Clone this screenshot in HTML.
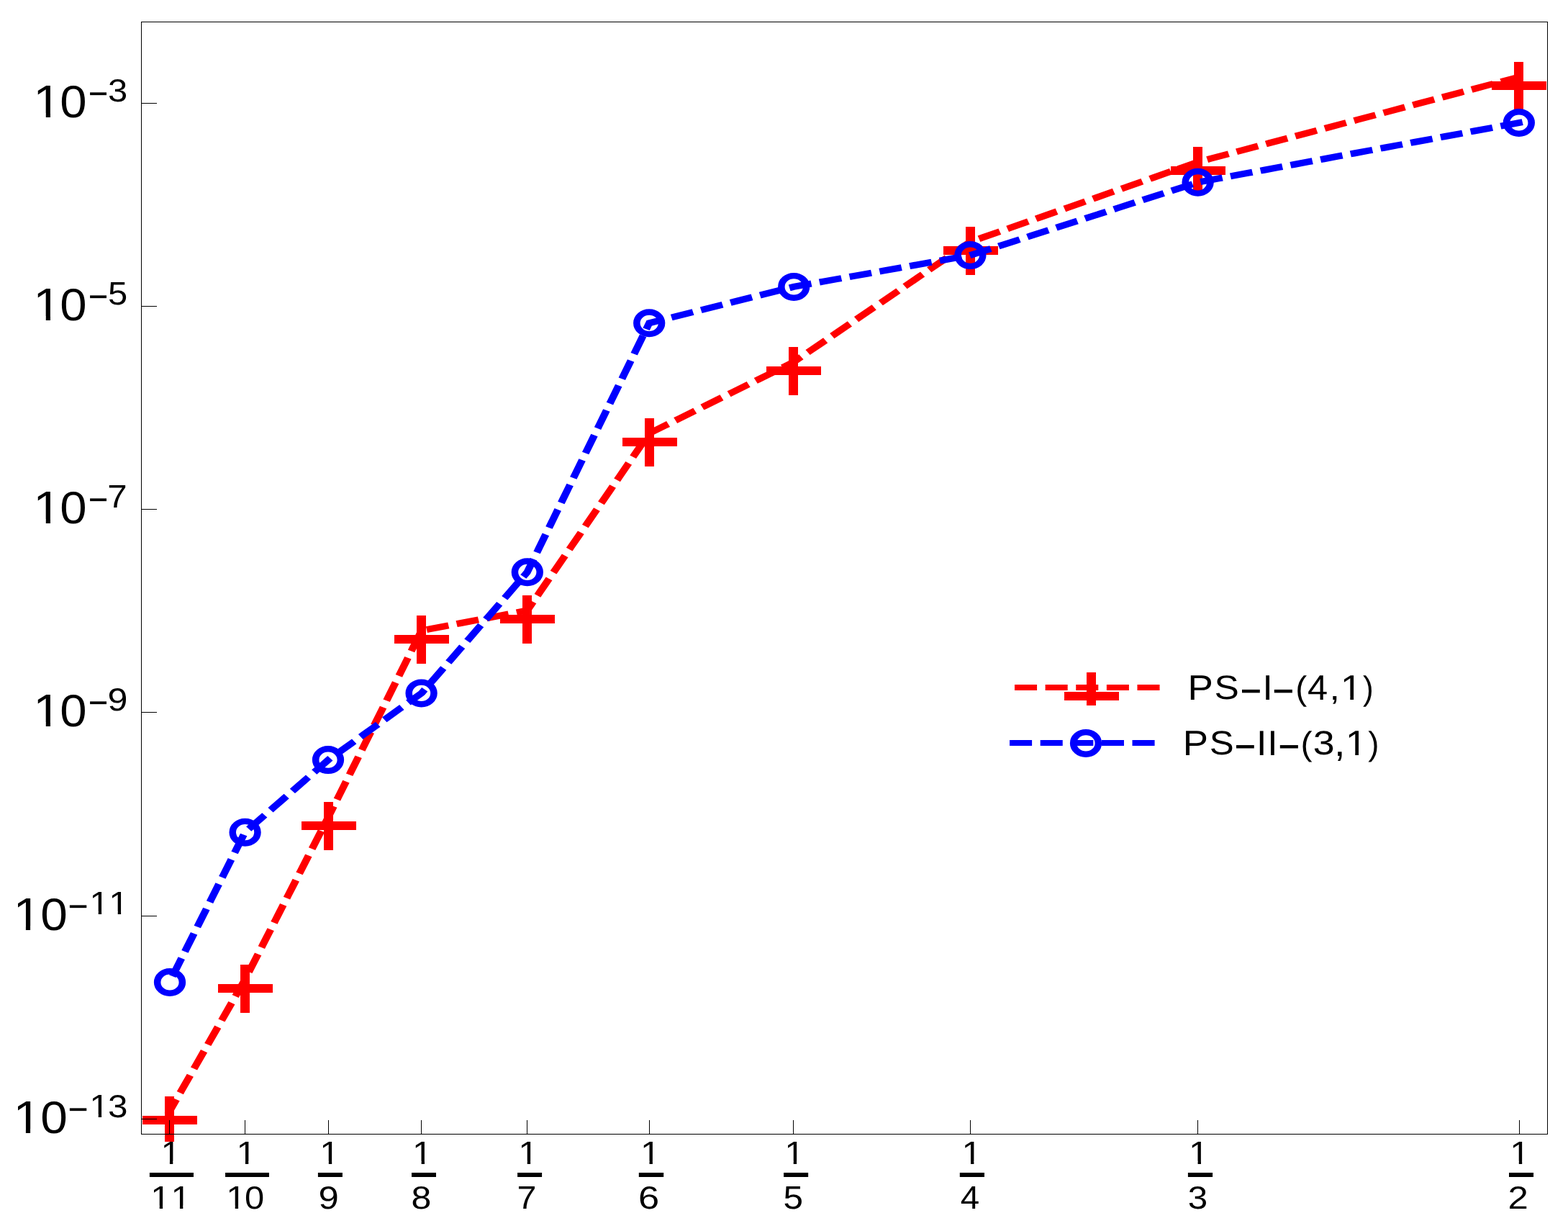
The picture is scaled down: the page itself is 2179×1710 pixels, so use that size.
<!DOCTYPE html>
<html lang="en"><head><meta charset="utf-8">
<style>html,body{margin:0;padding:0;background:#fff}body{width:2179px;height:1710px}svg{display:block}text{font-family:"Liberation Sans",sans-serif;fill:#000;text-rendering:geometricPrecision}</style></head><body>
<svg width="2179" height="1710" viewBox="0 0 2179 1710">
<rect width="2179" height="1710" fill="#fff"/>
<g transform="scale(1.135,1)">
<polyline points="1859.67,107 1466.71,225 1187.9,336 971.63,503 794.93,602 645.54,848 516.12,876 401.97,1135 299.86,1361 207.49,1544" fill="none" stroke="#ff0000" stroke-width="9" stroke-dasharray="18.36 19.19" stroke-linecap="square" stroke-linejoin="miter"/>
</g>
<g fill="#ff0000" shape-rendering="crispEdges">
<rect x="198" y="1550" width="76" height="12"/>
<rect x="229" y="1523" width="13" height="63"/>
<rect x="303" y="1367" width="76" height="12"/>
<rect x="334" y="1340" width="13" height="67"/>
<rect x="419" y="1141" width="76" height="12"/>
<rect x="450" y="1114" width="13" height="67"/>
<rect x="548" y="882" width="76" height="12"/>
<rect x="579" y="855" width="13" height="67"/>
<rect x="695" y="854" width="76" height="12"/>
<rect x="726" y="827" width="13" height="67"/>
<rect x="865" y="608" width="76" height="12"/>
<rect x="896" y="581" width="13" height="67"/>
<rect x="1065" y="509" width="76" height="12"/>
<rect x="1096" y="482" width="13" height="67"/>
<rect x="1311" y="342" width="76" height="12"/>
<rect x="1342" y="315" width="13" height="67"/>
<rect x="1627" y="231" width="76" height="12"/>
<rect x="1658" y="204" width="13" height="67"/>
<rect x="2073" y="113" width="76" height="12"/>
<rect x="2104" y="86" width="13" height="67"/>
</g>
<g transform="scale(1.135,1)">
<polyline points="1859.67,170.5 1466.71,253.3 1187.9,354.6 971.63,398.4 794.93,448.8 645.54,794.8 516.12,962.9 401.97,1055.6 299.86,1156.2 207.49,1364.5" fill="none" stroke="#0000ff" stroke-width="9" stroke-dasharray="18.36 19.19" stroke-linecap="square" stroke-linejoin="miter"/>
<g fill="none" stroke="#0000ff" stroke-width="8.4">
<circle cx="207.93" cy="1364.5" r="15.3"/>
<circle cx="300.09" cy="1156.2" r="15.3"/>
<circle cx="401.76" cy="1055.6" r="15.3"/>
<circle cx="515.95" cy="962.9" r="15.3"/>
<circle cx="645.64" cy="794.8" r="15.3"/>
<circle cx="794.89" cy="448.8" r="15.3"/>
<circle cx="971.98" cy="398.4" r="15.3"/>
<circle cx="1188.02" cy="354.6" r="15.3"/>
<circle cx="1466.61" cy="253.3" r="15.3"/>
<circle cx="1859.78" cy="170.5" r="15.3"/>
</g></g>
<g transform="scale(1.135,1)">
<line x1="1246.19" y1="955" x2="1427.31" y2="955" stroke="#ff0000" stroke-width="7.8" stroke-dasharray="19.56 17.99" stroke-linecap="square"/>
</g>
<g fill="#ff0000" shape-rendering="crispEdges">
<rect x="1479" y="961" width="76" height="12"/>
<rect x="1510" y="934" width="13" height="46"/>
</g>
<g transform="scale(1.135,1)">
<line x1="1240.07" y1="1032" x2="1420.26" y2="1032" stroke="#0000ff" stroke-width="7.8" stroke-dasharray="19.56 17.99" stroke-linecap="square"/>
<g fill="none" stroke="#0000ff" stroke-width="8.4">
<circle cx="1329.52" cy="1032.4" r="15.3"/>
</g></g>
<text><tspan x="1650.55" y="972" font-size="49.13" textLength="35.34" lengthAdjust="spacingAndGlyphs">P</tspan><tspan x="1687.57" y="971" font-size="46.98" textLength="34.29" lengthAdjust="spacingAndGlyphs">S</tspan><tspan x="1723.58" y="981" font-size="62.74" textLength="29.81" lengthAdjust="spacingAndGlyphs">−</tspan><tspan x="1754.45" y="972" font-size="49.13" textLength="14.3" lengthAdjust="spacingAndGlyphs">I</tspan><tspan x="1768.35" y="981" font-size="62.74" textLength="30.17" lengthAdjust="spacingAndGlyphs">−</tspan><tspan x="1800.33" y="972" font-size="46.65" textLength="15.95" lengthAdjust="spacingAndGlyphs">(</tspan><tspan x="1817.04" y="972" font-size="49.13" textLength="28.14" lengthAdjust="spacingAndGlyphs">4</tspan><tspan x="1847.53" y="972" font-size="45.82" textLength="14.44" lengthAdjust="spacingAndGlyphs">,</tspan><tspan x="1862.74" y="972" font-size="49.13" textLength="30.06" lengthAdjust="spacingAndGlyphs">1</tspan><tspan x="1893.94" y="972" font-size="46.65" textLength="14.7" lengthAdjust="spacingAndGlyphs">)</tspan></text>
<text><tspan x="1643.67" y="1049" font-size="48.91" textLength="35.22" lengthAdjust="spacingAndGlyphs">P</tspan><tspan x="1680.69" y="1048" font-size="46.76" textLength="33.95" lengthAdjust="spacingAndGlyphs">S</tspan><tspan x="1715.58" y="1058" font-size="62.34" textLength="29.81" lengthAdjust="spacingAndGlyphs">−</tspan><tspan x="1746.1" y="1049" font-size="48.91" textLength="14.45" lengthAdjust="spacingAndGlyphs">I</tspan><tspan x="1761.35" y="1049" font-size="48.91" textLength="14.3" lengthAdjust="spacingAndGlyphs">I</tspan><tspan x="1776.35" y="1058" font-size="62.34" textLength="30.17" lengthAdjust="spacingAndGlyphs">−</tspan><tspan x="1807.51" y="1049" font-size="46.44" textLength="16.08" lengthAdjust="spacingAndGlyphs">(</tspan><tspan x="1824.65" y="1048" font-size="46.76" textLength="29.91" lengthAdjust="spacingAndGlyphs">3</tspan><tspan x="1854.07" y="1050" font-size="53.77" textLength="15.57" lengthAdjust="spacingAndGlyphs">,</tspan><tspan x="1869.72" y="1049" font-size="48.91" textLength="29.92" lengthAdjust="spacingAndGlyphs">1</tspan><tspan x="1901.13" y="1049" font-size="46.44" textLength="15.2" lengthAdjust="spacingAndGlyphs">)</tspan></text>
<text><tspan x="46.07" y="163" font-size="64.03" textLength="39.17" lengthAdjust="spacingAndGlyphs">1</tspan><tspan x="83.28" y="163" font-size="63.09" textLength="37.35" lengthAdjust="spacingAndGlyphs">0</tspan><tspan x="122.77" y="148" font-size="53.37" textLength="27.59" lengthAdjust="spacingAndGlyphs">−</tspan><tspan x="150.04" y="141" font-size="44.33" textLength="27.21" lengthAdjust="spacingAndGlyphs">3</tspan></text>
<text><tspan x="46.07" y="445" font-size="64.03" textLength="39.17" lengthAdjust="spacingAndGlyphs">1</tspan><tspan x="83.28" y="445" font-size="63.09" textLength="37.35" lengthAdjust="spacingAndGlyphs">0</tspan><tspan x="122.77" y="430" font-size="53.37" textLength="27.59" lengthAdjust="spacingAndGlyphs">−</tspan><tspan x="149.94" y="423" font-size="44.99" textLength="27.21" lengthAdjust="spacingAndGlyphs">5</tspan></text>
<text><tspan x="46.07" y="727" font-size="64.03" textLength="39.17" lengthAdjust="spacingAndGlyphs">1</tspan><tspan x="83.28" y="727" font-size="63.09" textLength="37.35" lengthAdjust="spacingAndGlyphs">0</tspan><tspan x="122.77" y="712" font-size="53.37" textLength="27.59" lengthAdjust="spacingAndGlyphs">−</tspan><tspan x="149.37" y="705" font-size="44.99" textLength="27.4" lengthAdjust="spacingAndGlyphs">7</tspan></text>
<text><tspan x="46.07" y="1009" font-size="64.03" textLength="39.17" lengthAdjust="spacingAndGlyphs">1</tspan><tspan x="83.28" y="1009" font-size="63.09" textLength="37.35" lengthAdjust="spacingAndGlyphs">0</tspan><tspan x="122.77" y="994" font-size="53.37" textLength="27.59" lengthAdjust="spacingAndGlyphs">−</tspan><tspan x="149.55" y="987" font-size="44.33" textLength="27.93" lengthAdjust="spacingAndGlyphs">9</tspan></text>
<text><tspan x="18.17" y="1292" font-size="64.03" textLength="39.17" lengthAdjust="spacingAndGlyphs">1</tspan><tspan x="56.36" y="1292" font-size="63.09" textLength="37.58" lengthAdjust="spacingAndGlyphs">0</tspan><tspan x="94.42" y="1277" font-size="53.37" textLength="28.13" lengthAdjust="spacingAndGlyphs">−</tspan><tspan x="124.29" y="1270" font-size="44.99" textLength="27.52" lengthAdjust="spacingAndGlyphs">1</tspan><tspan x="151.29" y="1270" font-size="44.99" textLength="27.52" lengthAdjust="spacingAndGlyphs">1</tspan></text>
<text><tspan x="18.17" y="1574" font-size="64.03" textLength="39.17" lengthAdjust="spacingAndGlyphs">1</tspan><tspan x="56.36" y="1574" font-size="63.09" textLength="37.58" lengthAdjust="spacingAndGlyphs">0</tspan><tspan x="94.42" y="1559" font-size="53.37" textLength="28.13" lengthAdjust="spacingAndGlyphs">−</tspan><tspan x="124.29" y="1552" font-size="44.99" textLength="27.52" lengthAdjust="spacingAndGlyphs">1</tspan><tspan x="150.02" y="1552" font-size="44.33" textLength="27.45" lengthAdjust="spacingAndGlyphs">3</tspan></text>
<text><tspan x="223.4" y="1617" font-size="45.2" textLength="27.65" lengthAdjust="spacingAndGlyphs">1</tspan><tspan x="209.26" y="1679" font-size="45.06" textLength="27.57" lengthAdjust="spacingAndGlyphs">1</tspan><tspan x="237.46" y="1679" font-size="45.06" textLength="27.57" lengthAdjust="spacingAndGlyphs">1</tspan></text>
<text><tspan x="328.4" y="1617" font-size="45.2" textLength="27.65" lengthAdjust="spacingAndGlyphs">1</tspan><tspan x="314.26" y="1679" font-size="45.06" textLength="27.57" lengthAdjust="spacingAndGlyphs">1</tspan><tspan x="339.99" y="1679" font-size="44.4" textLength="27.22" lengthAdjust="spacingAndGlyphs">0</tspan></text>
<text><tspan x="444.3" y="1617" font-size="45.2" textLength="27.65" lengthAdjust="spacingAndGlyphs">1</tspan><tspan x="442.52" y="1679" font-size="44.4" textLength="28.29" lengthAdjust="spacingAndGlyphs">9</tspan></text>
<text><tspan x="573.1" y="1617" font-size="45.2" textLength="27.65" lengthAdjust="spacingAndGlyphs">1</tspan><tspan x="571.42" y="1679" font-size="44.4" textLength="27.85" lengthAdjust="spacingAndGlyphs">8</tspan></text>
<text><tspan x="720.25" y="1617" font-size="45.2" textLength="27.65" lengthAdjust="spacingAndGlyphs">1</tspan><tspan x="718.52" y="1679" font-size="45.06" textLength="26.92" lengthAdjust="spacingAndGlyphs">7</tspan></text>
<text><tspan x="890" y="1617" font-size="45.2" textLength="27.65" lengthAdjust="spacingAndGlyphs">1</tspan><tspan x="887.04" y="1679" font-size="44.4" textLength="29.17" lengthAdjust="spacingAndGlyphs">6</tspan></text>
<text><tspan x="1090.2" y="1617" font-size="45.2" textLength="27.65" lengthAdjust="spacingAndGlyphs">1</tspan><tspan x="1088.52" y="1679" font-size="45.06" textLength="27.57" lengthAdjust="spacingAndGlyphs">5</tspan></text>
<text><tspan x="1336.5" y="1617" font-size="45.2" textLength="27.65" lengthAdjust="spacingAndGlyphs">1</tspan><tspan x="1334.81" y="1679" font-size="45.06" textLength="26.38" lengthAdjust="spacingAndGlyphs">4</tspan></text>
<text><tspan x="1652.06" y="1617" font-size="45.2" textLength="27.65" lengthAdjust="spacingAndGlyphs">1</tspan><tspan x="1650.82" y="1679" font-size="44.4" textLength="27.45" lengthAdjust="spacingAndGlyphs">3</tspan></text>
<text><tspan x="2098.3" y="1617" font-size="45.2" textLength="27.65" lengthAdjust="spacingAndGlyphs">1</tspan><tspan x="2095.44" y="1679" font-size="44.4" textLength="28.32" lengthAdjust="spacingAndGlyphs">2</tspan></text>
<g fill="#000"><rect x="207.9" y="1629" width="61.1" height="6"/><rect x="313.05" y="1629" width="60.91" height="6"/><rect x="441.9" y="1629" width="34" height="6"/><rect x="572" y="1629" width="34" height="6"/><rect x="719.1" y="1629" width="34" height="6"/><rect x="887.8" y="1629" width="34.4" height="6"/><rect x="1089.07" y="1629" width="34.08" height="6"/><rect x="1333.8" y="1629" width="34.2" height="6"/><rect x="1650.9" y="1629" width="34.2" height="6"/><rect x="2097" y="1629" width="34.06" height="6"/></g>
<g fill="#fff"><rect x="1865.44" y="967.53" width="10.89" height="5.27"/><rect x="1881.1" y="967.53" width="10.28" height="5.27"/><rect x="1872.41" y="1044.55" width="10.84" height="5.25"/><rect x="1888" y="1044.55" width="10.23" height="5.25"/><rect x="49.59" y="157.42" width="14.19" height="6.38"/><rect x="70" y="157.42" width="13.4" height="6.38"/><rect x="49.59" y="439.42" width="14.19" height="6.38"/><rect x="70" y="439.42" width="13.4" height="6.38"/><rect x="49.59" y="721.42" width="14.19" height="6.38"/><rect x="70" y="721.42" width="13.4" height="6.38"/><rect x="49.59" y="1003.42" width="14.19" height="6.38"/><rect x="70" y="1003.42" width="13.4" height="6.38"/><rect x="21.69" y="1286.42" width="14.19" height="6.38"/><rect x="42.1" y="1286.42" width="13.4" height="6.38"/><rect x="126.76" y="1265.84" width="9.97" height="4.96"/><rect x="141.1" y="1265.84" width="9.41" height="4.96"/><rect x="153.76" y="1265.84" width="9.97" height="4.96"/><rect x="168.1" y="1265.84" width="9.41" height="4.96"/><rect x="21.69" y="1568.42" width="14.19" height="6.38"/><rect x="42.1" y="1568.42" width="13.4" height="6.38"/><rect x="126.76" y="1547.84" width="9.97" height="4.96"/><rect x="141.1" y="1547.84" width="9.41" height="4.96"/><rect x="225.89" y="1612.82" width="10.02" height="4.98"/><rect x="240.3" y="1612.82" width="9.46" height="4.98"/><rect x="211.74" y="1674.83" width="9.99" height="4.97"/><rect x="226.1" y="1674.83" width="9.43" height="4.97"/><rect x="239.94" y="1674.83" width="9.99" height="4.97"/><rect x="254.3" y="1674.83" width="9.43" height="4.97"/><rect x="330.89" y="1612.82" width="10.02" height="4.98"/><rect x="345.3" y="1612.82" width="9.46" height="4.98"/><rect x="316.74" y="1674.83" width="9.99" height="4.97"/><rect x="331.1" y="1674.83" width="9.43" height="4.97"/><rect x="446.79" y="1612.82" width="10.02" height="4.98"/><rect x="461.2" y="1612.82" width="9.46" height="4.98"/><rect x="575.59" y="1612.82" width="10.02" height="4.98"/><rect x="590" y="1612.82" width="9.46" height="4.98"/><rect x="722.74" y="1612.82" width="10.02" height="4.98"/><rect x="737.15" y="1612.82" width="9.46" height="4.98"/><rect x="892.49" y="1612.82" width="10.02" height="4.98"/><rect x="906.9" y="1612.82" width="9.46" height="4.98"/><rect x="1092.69" y="1612.82" width="10.02" height="4.98"/><rect x="1107.1" y="1612.82" width="9.46" height="4.98"/><rect x="1338.99" y="1612.82" width="10.02" height="4.98"/><rect x="1353.4" y="1612.82" width="9.46" height="4.98"/><rect x="1654.55" y="1612.82" width="10.02" height="4.98"/><rect x="1668.96" y="1612.82" width="9.46" height="4.98"/><rect x="2100.79" y="1612.82" width="10.02" height="4.98"/><rect x="2115.2" y="1612.82" width="9.46" height="4.98"/></g>
<g fill="#000" shape-rendering="crispEdges">
<rect x="196" y="30" width="1955" height="1"/>
<rect x="196" y="1575" width="1955" height="1"/>
<rect x="196" y="30" width="1" height="1546"/>
<rect x="2150" y="30" width="1" height="1546"/>
<rect x="196" y="143" width="22" height="1"/>
<rect x="196" y="425" width="22" height="1"/>
<rect x="196" y="707" width="22" height="1"/>
<rect x="196" y="989" width="22" height="1"/>
<rect x="196" y="1272" width="22" height="1"/>
<rect x="196" y="1554" width="22" height="1"/>
<rect x="235" y="1556" width="1" height="20"/>
<rect x="340" y="1556" width="1" height="20"/>
<rect x="456" y="1556" width="1" height="20"/>
<rect x="585" y="1556" width="1" height="20"/>
<rect x="732" y="1556" width="1" height="20"/>
<rect x="902" y="1556" width="1" height="20"/>
<rect x="1102" y="1556" width="1" height="20"/>
<rect x="1348" y="1556" width="1" height="20"/>
<rect x="1664" y="1556" width="1" height="20"/>
<rect x="2111" y="1556" width="1" height="20"/>
</g>
</svg></body></html>
